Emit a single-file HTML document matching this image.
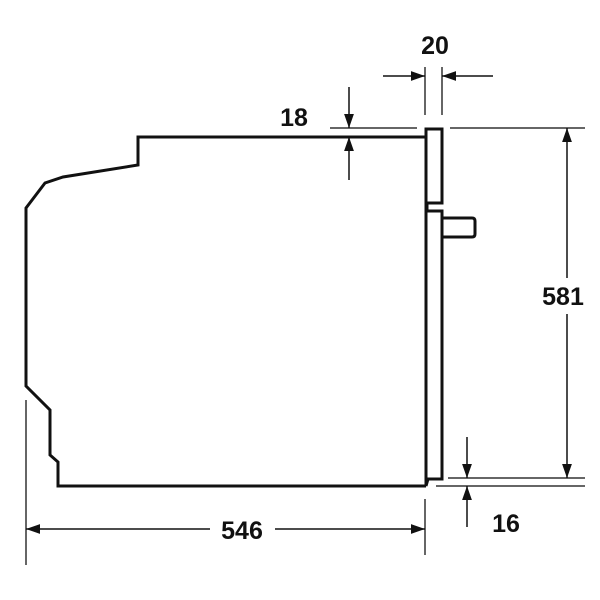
<!DOCTYPE html>
<html><head><style>body{margin:0;background:#fff}svg{display:block}</style></head><body>
<svg width="600" height="600" viewBox="0 0 600 600" xmlns="http://www.w3.org/2000/svg">
<defs>
<marker id="a" viewBox="0 0 10 10" refX="10" refY="5" markerWidth="14" markerHeight="14" markerUnits="userSpaceOnUse" orient="auto"><path d="M0,1.5 L10,5 L0,8.5z" fill="#111"/></marker>
</defs>
<g fill="none" stroke="#111" stroke-width="3" stroke-linejoin="miter">
<path d="M426,486 L58,486 L58,462 L50,455 L50,410 L26,386 L26,208 L45,183 L63,177 L138,165 L138,137 L426,137"/>
<path d="M426,486 L428,479 L442,479 L442,211 L427,211 L427,203 L442,203 L442,129 L426,129 Z"/>
<path d="M442,218 L472,218 Q475,218 475,221 L475,234 Q475,237 472,237 L442,237"/>
</g>
<g stroke="#333" stroke-width="1.5" fill="none">
<line x1="330" y1="128" x2="417" y2="128"/>
<line x1="450" y1="128" x2="585" y2="128"/>
<line x1="448" y1="478" x2="585" y2="478"/>
<line x1="436" y1="486" x2="585" y2="486"/>
<line x1="425" y1="67" x2="425" y2="115"/>
<line x1="442" y1="67" x2="442" y2="115"/>
<line x1="26" y1="400" x2="26" y2="565"/>
<line x1="425" y1="499" x2="425" y2="555"/>
</g>
<g stroke="#111" stroke-width="1.5" fill="none" marker-end="url(#a)">
<line x1="349" y1="87" x2="349" y2="128"/>
<line x1="349" y1="180" x2="349" y2="137"/>
<line x1="383" y1="76" x2="425" y2="76"/>
<line x1="493" y1="76" x2="442" y2="76"/>
<line x1="567" y1="300" x2="567" y2="128"/>
<line x1="567" y1="300" x2="567" y2="478"/>
<line x1="467" y1="437" x2="467" y2="478"/>
<line x1="467" y1="527" x2="467" y2="486"/>
<line x1="210" y1="529" x2="26" y2="529"/>
<line x1="275" y1="529" x2="425" y2="529"/>
</g>
<rect x="540" y="278" width="50" height="36" fill="#fff"/>
<g font-family="Liberation Sans, sans-serif" font-weight="bold" font-size="25" fill="#111" text-anchor="middle">
<text x="294" y="126">18</text>
<text x="435" y="54">20</text>
<text x="563" y="305">581</text>
<text x="506" y="532">16</text>
<text x="242" y="539">546</text>
</g>
</svg>
</body></html>
